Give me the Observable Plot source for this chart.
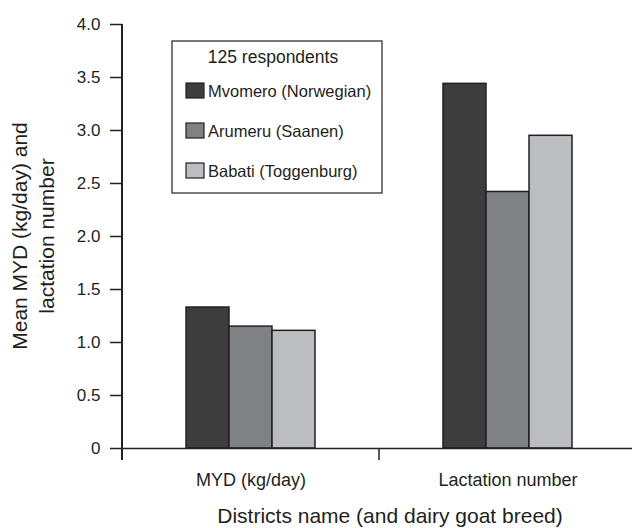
<!DOCTYPE html>
<html>
<head>
<meta charset="utf-8">
<script src="https://cdn.jsdelivr.net/npm/d3@7"></script>
<script src="https://cdn.jsdelivr.net/npm/@observablehq/plot@0.6"></script>
<style>
  body { margin: 0; background: #fff; }
  #chart svg { font-family: "Liberation Sans", Arial, sans-serif; }
</style>
</head>
<body>
<div id="chart"></div>
<script>
// ---- data ----
const measures = ["MYD (kg/day)", "Lactation number"];
const districts = ["Mvomero (Norwegian)", "Arumeru (Saanen)", "Babati (Toggenburg)"];
const mydValues = [1.33, 1.15, 1.11];
const lactationValues = [3.44, 2.42, 2.95];
const yTicks = [0, 0.5, 1.0, 1.5, 2.0, 2.5, 3.0, 3.5, 4.0];
const barColors = ["#3d3d3d", "#808184", "#bcbdc0"];
const legendTitle = "125 respondents";
const yLabelLines = ["Mean MYD (kg/day) and", "lactation number"];
const xLabel = "Districts name (and dairy goat breed)";

const data = [
  ...districts.map((d, i) => ({measure: measures[0], district: d, value: mydValues[i]})),
  ...districts.map((d, i) => ({measure: measures[1], district: d, value: lactationValues[i]}))
];

const fmt = d => d === 0 ? "0" : d.toFixed(1);
const ink = "#231f20";

const plot = Plot.plot({
  width: 632,
  height: 528,
  marginLeft: 122,
  marginRight: -4,
  marginTop: 24,
  marginBottom: 80,
  style: {background: "#fff", color: ink, fontFamily: "'Liberation Sans', Arial, sans-serif"},
  fx: {domain: measures, padding: 0, label: null},
  x: {domain: districts, paddingInner: 0, paddingOuter: 1.45, axis: null},
  y: {domain: [0, 4], label: null},
  color: {domain: districts, range: barColors},
  marks: [
    Plot.barY(data, {fx: "measure", x: "district", y: "value", fill: "district", stroke: ink, strokeWidth: 1.5}),
    Plot.ruleY([0], {stroke: ink, strokeWidth: 1.5}),
    Plot.axisY({ticks: yTicks, tickFormat: fmt, tickSize: 12, tickPadding: 10, fontSize: 17, label: null, strokeWidth: 1.5}),
    Plot.axisFx({anchor: "bottom", tickSize: 0, tickPadding: 25, fontSize: 18, label: null})
  ]
});

document.getElementById("chart").appendChild(plot);

const svg = d3.select(plot);
const fx = plot.scale("fx");
const y = plot.scale("y");
const x0 = 122;
const yTop = y.apply(4);
const yZero = y.apply(0);

// y-axis line (extends slightly below zero)
svg.append("line")
  .attr("x1", x0).attr("x2", x0)
  .attr("y1", yTop).attr("y2", yZero + 12)
  .attr("stroke", ink).attr("stroke-width", 2);

// separator tick between the two groups
const sepX = fx.apply(measures[1]);
svg.append("line")
  .attr("x1", sepX).attr("x2", sepX)
  .attr("y1", yZero).attr("y2", yZero + 12)
  .attr("stroke", ink).attr("stroke-width", 1.5);

// y-axis title (two lines)
const yl = svg.append("text")
  .attr("transform", `translate(27,${(yTop + yZero) / 2}) rotate(-90)`)
  .attr("text-anchor", "middle")
  .attr("font-size", 21)
  .attr("fill", ink);
yl.append("tspan").attr("x", 0).attr("dy", 0).text(yLabelLines[0]);
yl.append("tspan").attr("x", 0).attr("dy", 27).text(yLabelLines[1]);

// x-axis title
svg.append("text")
  .attr("x", 390)
  .attr("y", 523)
  .attr("text-anchor", "middle")
  .attr("font-size", 21)
  .attr("fill", ink)
  .text(xLabel);

// legend
const lg = svg.append("g").attr("text-anchor", "start");
lg.append("rect")
  .attr("x", 172).attr("y", 41).attr("width", 210).attr("height", 152)
  .attr("fill", "#fff").attr("stroke", ink).attr("stroke-width", 1.2);
lg.append("text")
  .attr("x", 273).attr("y", 63)
  .attr("text-anchor", "middle")
  .attr("font-size", 17.5)
  .attr("fill", ink)
  .text(legendTitle);
districts.forEach((d, i) => {
  const cy = 90.5 + i * 40;
  lg.append("rect")
    .attr("x", 186).attr("y", cy - 7.5).attr("width", 18).attr("height", 15)
    .attr("fill", barColors[i]).attr("stroke", ink).attr("stroke-width", 1.2);
  lg.append("text")
    .attr("x", 208).attr("y", cy + 6)
    .attr("text-anchor", "start")
    .attr("font-size", 16.5)
    .attr("fill", ink)
    .text(d);
});
</script>
</body>
</html>
